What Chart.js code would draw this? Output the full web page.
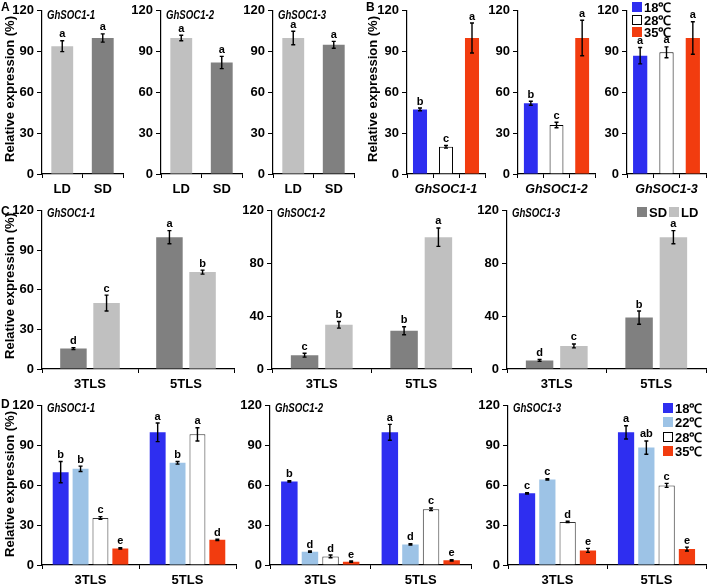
<!DOCTYPE html>
<html>
<head>
<meta charset="utf-8">
<script src="https://cdn.jsdelivr.net/npm/chart.js@4.4.1/dist/chart.umd.min.js"></script>
<style>
  body { margin: 0; width: 708px; height: 586px; background: #fff; position: relative; overflow: hidden;
         font-family: Arial, "Liberation Sans", sans-serif; }
  canvas { position: absolute; }
  .t { position: absolute; font-weight: bold; color: #000; white-space: nowrap; line-height: 1; }
  .gene { font-style: italic; font-size: 13px; transform: scaleX(0.74); transform-origin: left center; }
  .panel { font-size: 12px; }
  .ytitle { font-size: 13px; width: 170px; text-align: center; transform: rotate(-90deg); }
  .leg { font-size: 13px; }
  .sw { position: absolute; width: 10px; height: 10px; box-sizing: border-box; }
</style>
</head>
<body>
<script>
// ---- data ----
const genes = ['GhSOC1-1', 'GhSOC1-2', 'GhSOC1-3'];
const dayLabels = ['LD', 'SD'];
const tempsB = ['18℃', '28℃', '35℃'];
const tempsD = ['18℃', '22℃', '28℃', '35℃'];
const stages = ['3TLS', '5TLS'];

// A: LD vs SD
const aValues = [[94, 100], [100, 82], [100, 95]];
const aErrors = [[4, 3], [2, 4.5], [5, 2.5]];
const aLetters = [['a', 'a'], ['a', 'a'], ['a', 'a']];

// B: 18 / 28 / 35 C
const bValues = [[47.5, 20, 100], [52, 36, 100], [87, 89.5, 100]];
const bErrors = [[1, 1, 11], [1.5, 2, 13], [6, 4, 12]];
const bLetters = [['b', 'c', 'a'], ['b', 'c', 'a'], ['a', 'a', 'a']];

// C: SD / LD at 3TLS, 5TLS
const cSD = [[15.5, 100], [10.5, 29], [6.5, 39]];
const cSDErr = [[0.7, 5], [1.5, 3], [0.7, 5]];
const cSDSig = [['d', 'a'], ['c', 'b'], ['d', 'b']];
const cLD = [[50, 73.5], [33.5, 100], [17.5, 100]];
const cLDErr = [[6, 1.5], [2.5, 7], [1.5, 5]];
const cLDSig = [['c', 'b'], ['b', 'a'], ['c', 'a']];
const cYMax = [120, 120, 120];
const cYStep = [30, 40, 40];

// D: four temperatures at 3TLS, 5TLS
const d18 = [[70, 100], [63, 100], [54, 100]];
const d18Err = [[8, 7], [0.5, 6], [0.5, 5]];
const d18Sig = [['b', 'a'], ['b', 'a'], ['c', 'a']];
const d22 = [[72.5, 77], [10, 15.5], [64.5, 88.5]];
const d22Err = [[2, 1], [0.5, 0.5], [0.5, 5]];
const d22Sig = [['b', 'b'], ['d', 'd'], ['c', 'ab']];
const d28 = [[35.5, 98.5], [6.5, 42], [32.5, 60]];
const d28Err = [[1, 5], [1, 1], [0.5, 1.5]];
const d28Sig = [['c', 'a'], ['d', 'c'], ['d', 'c']];
const d35 = [[12.5, 19], [2.5, 3.5], [11, 12]];
const d35Err = [[0.5, 0.5], [0.5, 0.5], [1.5, 1.5]];
const d35Sig = [['e', 'd'], ['e', 'e'], ['e', 'e']];

const LIGHT = '#c0c0c0', DARK = '#808080';
const BLUE = '#2e2ef0', LBLUE = '#9dc3e6', RED = '#f23c0f', WHITE = '#ffffff';

// ---- layout ----
const YW = 34, PT = 10, PR = 3, XH = 30;
const FONT = 'Arial, "Liberation Sans", sans-serif';

// error bars + significance letters
const errPlugin = {
  id: 'errBars',
  afterDatasetsDraw(chart) {
    const ctx = chart.ctx;
    const ys = chart.scales.y;
    ctx.save();
    ctx.strokeStyle = '#000';
    ctx.fillStyle = '#000';
    ctx.lineWidth = 1.4;
    ctx.font = 'bold 11px ' + FONT;
    ctx.textAlign = 'center';
    ctx.textBaseline = 'bottom';
    chart.data.datasets.forEach((ds, i) => {
      chart.getDatasetMeta(i).data.forEach((bar, j) => {
        const v = ds.data[j], e = ds.err[j];
        const yt = ys.getPixelForValue(v + e);
        const yb = ys.getPixelForValue(v - e);
        ctx.beginPath();
        ctx.moveTo(bar.x, yt); ctx.lineTo(bar.x, yb);
        ctx.moveTo(bar.x - 2, yt); ctx.lineTo(bar.x + 2, yt);
        ctx.moveTo(bar.x - 2, yb); ctx.lineTo(bar.x + 2, yb);
        ctx.stroke();
        ctx.fillText(ds.sig[j], bar.x, yt - 1);
      });
    });
    ctx.restore();
  }
};

function makePanel(geo, labels, datasets, yMax, yStep, o) {
  const cv = document.createElement('canvas');
  const w = geo.x1 - geo.x0 + YW + PR;
  const h = geo.y1 - geo.y0 + PT + XH;
  cv.width = w; cv.height = h;
  cv.style.left = (geo.x0 - YW) + 'px';
  cv.style.top = (geo.y0 - PT) + 'px';
  cv.style.width = w + 'px'; cv.style.height = h + 'px';
  document.body.appendChild(cv);

  new Chart(cv.getContext('2d'), {
    type: 'bar',
    data: { labels, datasets },
    plugins: [errPlugin],
    options: {
      responsive: false,
      animation: false,
      devicePixelRatio: 1,
      layout: { padding: { top: PT, right: PR, left: 0, bottom: 0 } },
      plugins: { legend: { display: false }, tooltip: { enabled: false } },
      datasets: { bar: { categoryPercentage: o.cat, barPercentage: o.bar } },
      scales: {
        x: {
          offset: true,
          grid: { offset: true, drawOnChartArea: false, drawTicks: true, tickLength: 4, color: '#000', lineWidth: 1 },
          border: { display: true, color: '#000', width: 1.2 },
          ticks: {
            autoSkip: false, maxRotation: 0, padding: 4, color: '#000',
            font: { family: FONT, size: o.xSize || 13, weight: 'bold', style: o.xStyle || 'normal' },
            callback: o.xCb || function (v) { return this.getLabelForValue(v); }
          },
          afterFit: (s) => { s.height = XH; }
        },
        y: {
          min: 0, max: yMax,
          grid: { drawOnChartArea: false, drawTicks: true, tickLength: 5, color: '#000', lineWidth: 1 },
          border: { display: true, color: '#000', width: 1.2 },
          ticks: { stepSize: yStep, padding: 3, color: '#000', font: { family: FONT, size: 13, weight: 'bold' } },
          afterFit: (s) => { s.width = YW; }
        }
      }
    }
  });
}

function text(str, cls, x, y) {
  const d = document.createElement('div');
  d.className = 't ' + cls;
  d.textContent = str;
  d.style.left = x + 'px';
  d.style.top = y + 'px';
  document.body.appendChild(d);
  return d;
}

function yTitle(cx, cy) {
  const d = text('Relative expression (%)', 'ytitle', cx - 85, cy - 7);
  d.style.lineHeight = '14px';
}

function legend(items, x, y, dy, horizontal) {
  items.forEach((it, i) => {
    const sx = horizontal ? x + i * 32 : x;
    const sy = horizontal ? y : y + i * dy;
    const s = document.createElement('div');
    s.className = 'sw';
    s.style.left = sx + 'px';
    s.style.top = (sy - 5) + 'px';
    s.style.background = it.color;
    if (it.color === WHITE) s.style.border = '1px solid #000';
    document.body.appendChild(s);
    text(it.label, 'leg', sx + 12, sy - 6);
  });
}

// ---- row A ----
const aGeo = [
  { x0: 42, x1: 123, y0: 10, y1: 174 },
  { x0: 161, x1: 242, y0: 10, y1: 174 },
  { x0: 273, x1: 354, y0: 10, y1: 174 }
];
aGeo.forEach((g, k) => {
  makePanel(g, dayLabels, [{
    data: aValues[k], err: aErrors[k], sig: aLetters[k],
    backgroundColor: [LIGHT, DARK], borderWidth: 0
  }], 120, 30, { cat: 0.6, bar: 0.9 });
  text(genes[k], 'gene', g.x0 + 5, 8);
});

// ---- row B ----
const bGeo = [
  { x0: 407, x1: 485, y0: 10, y1: 174 },
  { x0: 518, x1: 595, y0: 10, y1: 174 },
  { x0: 627, x1: 706, y0: 10, y1: 174 }
];
bGeo.forEach((g, k) => {
  makePanel(g, tempsB, [{
    data: bValues[k], err: bErrors[k], sig: bLetters[k],
    backgroundColor: [BLUE, WHITE, RED],
    borderColor: ['#000', '#000', '#000'], borderWidth: [0, 1, 0]
  }], 120, 30, {
    cat: 0.6, bar: 0.9, xSize: 12.5, xStyle: 'italic',
    xCb: (v, i) => (i === 1 ? genes[k] : '')
  });
});
legend([{ label: '18℃', color: BLUE }, { label: '28℃', color: WHITE }, { label: '35℃', color: RED }], 632, 7, 12.5, false);

// ---- row C ----
const cGeo = [
  { x0: 42, x1: 234, y0: 210, y1: 369 },
  { x0: 272, x1: 471, y0: 210, y1: 369 },
  { x0: 507, x1: 706, y0: 210, y1: 369 }
];
cGeo.forEach((g, k) => {
  makePanel(g, stages, [
    { label: 'SD', data: cSD[k], err: cSDErr[k], sig: cSDSig[k], backgroundColor: DARK, borderWidth: 0 },
    { label: 'LD', data: cLD[k], err: cLDErr[k], sig: cLDSig[k], backgroundColor: LIGHT, borderWidth: 0 }
  ], cYMax[k], cYStep[k], { cat: 0.69, bar: 0.8 });
  text(genes[k], 'gene', g.x0 + 5, 206);
});
legend([{ label: 'SD', color: DARK }, { label: 'LD', color: LIGHT }], 637, 212, 0, true);

// ---- row D ----
const dGeo = [
  { x0: 42, x1: 236, y0: 405, y1: 565 },
  { x0: 270, x1: 471, y0: 405, y1: 565 },
  { x0: 508, x1: 706, y0: 405, y1: 565 }
];
dGeo.forEach((g, k) => {
  makePanel(g, stages, [
    { label: tempsD[0], data: d18[k], err: d18Err[k], sig: d18Sig[k], backgroundColor: BLUE, borderWidth: 0 },
    { label: tempsD[1], data: d22[k], err: d22Err[k], sig: d22Sig[k], backgroundColor: LBLUE, borderWidth: 0 },
    { label: tempsD[2], data: d28[k], err: d28Err[k], sig: d28Sig[k], backgroundColor: WHITE, borderColor: '#333', borderWidth: 1 },
    { label: tempsD[3], data: d35[k], err: d35Err[k], sig: d35Sig[k], backgroundColor: RED, borderWidth: 0 }
  ], 120, 30, { cat: 0.82, bar: 0.8 });
  text(genes[k], 'gene', g.x0 + 5, 401);
});
legend(tempsD.map((t, i) => ({ label: t, color: [BLUE, LBLUE, WHITE, RED][i] })), 663, 408, 14.3, false);

// ---- titles, panel letters ----
yTitle(10, 89);
yTitle(373, 89);
yTitle(10, 286);
yTitle(10, 484);
text('A', 'panel', 1, 1);
text('B', 'panel', 366, 1);
text('C', 'panel', 1, 205);
text('D', 'panel', 1, 398);
</script>
</body>
</html>
